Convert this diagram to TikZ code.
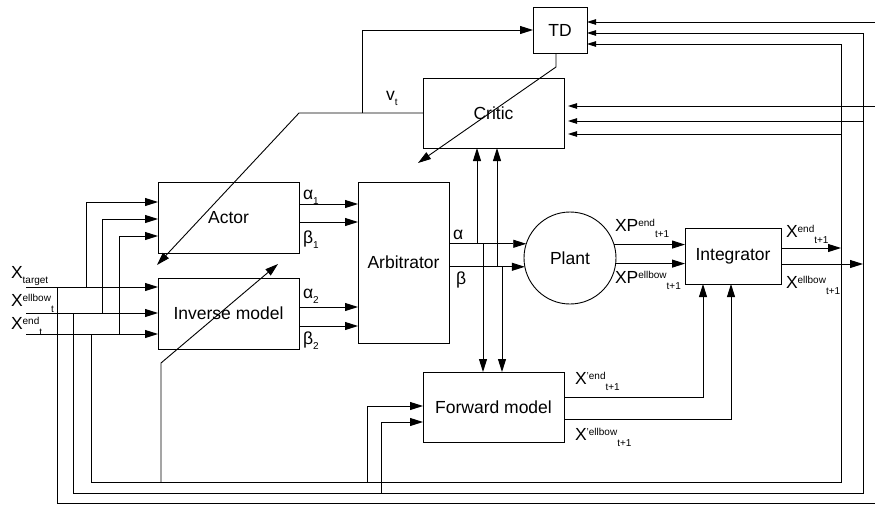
\documentclass[tikz,border=0pt]{standalone}
\usepackage{fontspec}
\setmainfont{Liberation Sans}
\usetikzlibrary{arrows.meta,calc}
\newcommand\lfont{\fontsize{17.5}{20}\selectfont}
\newcommand\sfont{\fontsize{10}{12}\selectfont}
\newcommand\supsub[3]{#1\raisebox{5pt}{\sfont #2}\raisebox{-6pt}{\sfont #3}}
\newcommand\subl[2]{#1\raisebox{-5pt}{\sfont #2}}
\begin{document}
\begin{tikzpicture}[x=1pt,y=-1pt,line width=0.9pt,
  box/.style={draw,inner sep=0pt,outer sep=0pt,font=\lfont},
  big/.style={-{Triangle[length=13pt,width=8pt]}},
  small/.style={-{Triangle[length=9pt,width=5.5pt]}},
  lbl/.style={anchor=base west,inner sep=0pt,outer sep=0pt,font=\lfont}]
\useasboundingbox (0,0) rectangle (875,504);

% boxes
\node[box,minimum width=54,minimum height=46] (td) at (560,30) {TD};
\node[box,minimum width=141,minimum height=70] (critic) at (493.5,113) {Critic};
\node[box,minimum width=141,minimum height=71] (actor) at (228.5,217.5) {Actor};
\node[box,minimum width=141,minimum height=71] (inv) at (228.5,313.5) {Inverse model};
\node[box,minimum width=91,minimum height=161] (arb) at (403.5,262.5) {Arbitrator};
\node[box,circle,minimum size=92] (plant) at (570,258) {Plant};
\node[box,minimum width=96,minimum height=56] (integ) at (733,256) {Integrator};
\node[box,minimum width=141,minimum height=70] (fwd) at (493.5,407) {Forward model};

% external inputs
\coordinate (inT) at (26,287);
\coordinate (inE) at (26,313);
\coordinate (inN) at (26,334);
\draw[big] (inT) -- (inv.west |- inT);
\draw[big] (inE) -- (inv.west |- inE);
\draw[big] (inN) -- (inv.west |- inN);
\coordinate (jT) at (86,287);
\coordinate (jE) at (102,313);
\coordinate (jN) at (119,334);
\draw[big] (jT) |- ($(actor.west)+(0,-15.5)$);
\draw[big] (jE) |- ($(actor.west)+(0,1.5)$);
\draw[big] (jN) |- ($(actor.west)+(0,18.5)$);

% feedback loops to TD and Critic
\coordinate (dT) at (57,287);
\coordinate (dE) at (73,313);
\coordinate (dN) at (91,334);
\coordinate (rT) at (880,503);
\coordinate (rE) at (863,493);
\coordinate (rN) at (841,482);
\draw[small] (dT) |- (rT) |- ($(td.east)+(0,-8)$);
\draw[small] (dE) |- (rE) |- ($(td.east)+(0,3)$);
\draw[small] (dN) |- (rN) |- ($(td.east)+(0,14)$);
\coordinate (cT) at (880,106);
\coordinate (cE) at (863,121);
\coordinate (cN) at (841,134);
\draw[small,shorten >=4pt] (cT) -- (critic.east |- cT);
\draw[small,shorten >=4pt] (cE) -- (critic.east |- cE);
\draw[small,shorten >=4pt] (cN) -- (critic.east |- cN);

% actor / inverse to arbitrator
\draw[big] ($(actor.east)+(0,-13.5)$) -- ($(arb.west)+(0,-58.5)$);
\draw[big] ($(actor.east)+(0,4.5)$) -- ($(arb.west)+(0,-40.5)$);
\draw[big] ($(inv.east)+(0,-6.5)$) -- ($(arb.west)+(0,44.5)$);
\draw[big] ($(inv.east)+(0,12.5)$) -- ($(arb.west)+(0,63.5)$);

% arbitrator to plant
\draw[big] (arb.east |- plant.162.3) -- (plant.162.3);
\draw[big] (arb.east |- plant.191.3) -- (plant.191.3);
\coordinate (uA) at (477,244);
\coordinate (uB) at (497,267);
\coordinate (dA) at (483,244);
\coordinate (dB) at (502,267);
\draw[big] (uA) -- (uA |- critic.south);
\draw[big] (uB) -- (uB |- critic.south);
\draw[big] (dA) -- (dA |- fwd.north);
\draw[big] (dB) -- (dB |- fwd.north);

% plant to integrator
\draw[big] (plant.17.7) -- (integ.west |- plant.17.7);
\draw[big] (plant.-7.5) -- (integ.west |- plant.-7.5);

% integrator outputs
\coordinate (oN) at (841,248);
\coordinate (oE) at (863,264);
\draw[big] (integ.east |- oN) -- (oN);
\draw[big] (integ.east |- oE) -- (oE);

% forward model outputs
\coordinate (f1) at (703,397);
\coordinate (f2) at (731,419);
\draw[big] (fwd.east |- f1) -| (integ.south -| f1);
\draw[big] (fwd.east |- f2) -| (integ.south -| f2);

% forward model inputs
\coordinate (g1) at (367,482);
\coordinate (g1t) at (367,406);
\coordinate (g2) at (381,493);
\coordinate (g2t) at (381,422);
\draw[big] (g1) |- (fwd.west |- g1t);
\draw[big] (g2) |- (fwd.west |- g2t);

% inverse model learning arrow
\coordinate (h0) at (161,482);
\coordinate (h1) at (161,363);
\coordinate (h2) at (278,264);
\draw[big] (h0) -- (h1) -- (h2);

% critic v_t
\coordinate (v1) at (299,113);
\coordinate (v2) at (157,265);
\coordinate (v3) at (362,113);
\draw[big] (critic.west) -- (v1) -- (v2);
\draw[big] (v3) |- (td.west);

% TD to critic
\coordinate (t0) at ($(td.south)+(-4,0)$);
\coordinate (t1) at ($(td.south)+(-4,14)$);
\coordinate (t2) at (418,163);
\draw[big] (t0) -- (t1) -- (t2);

% labels
\node[lbl] at (11,278) {\subl{X}{target}};
\node[lbl] at (11,306.5) {\supsub{X}{ellbow}{t}};
\node[lbl] at (11,329) {\supsub{X}{end}{t}};
\node[lbl] at (386,100) {\subl{v}{t}};
\node[lbl] at (303,199) {\subl{α}{1}};
\node[lbl] at (303,243) {\subl{β}{1}};
\node[lbl] at (303,298) {\subl{α}{2}};
\node[lbl] at (303,344) {\subl{β}{2}};
\node[lbl] at (453,239) {α};
\node[lbl] at (456,284) {β};
\node[lbl] at (615,231) {\supsub{XP}{end}{t+1}};
\node[lbl] at (615,283) {\supsub{XP}{ellbow}{t+1}};
\node[lbl] at (786,237) {\supsub{X}{end}{t+1}};
\node[lbl] at (786,288) {\supsub{X}{ellbow}{t+1}};
\node[lbl] at (575,384) {\supsub{X}{’end}{t+1}};
\node[lbl] at (575,440) {\supsub{X}{’ellbow}{t+1}};
\end{tikzpicture}
\end{document}
